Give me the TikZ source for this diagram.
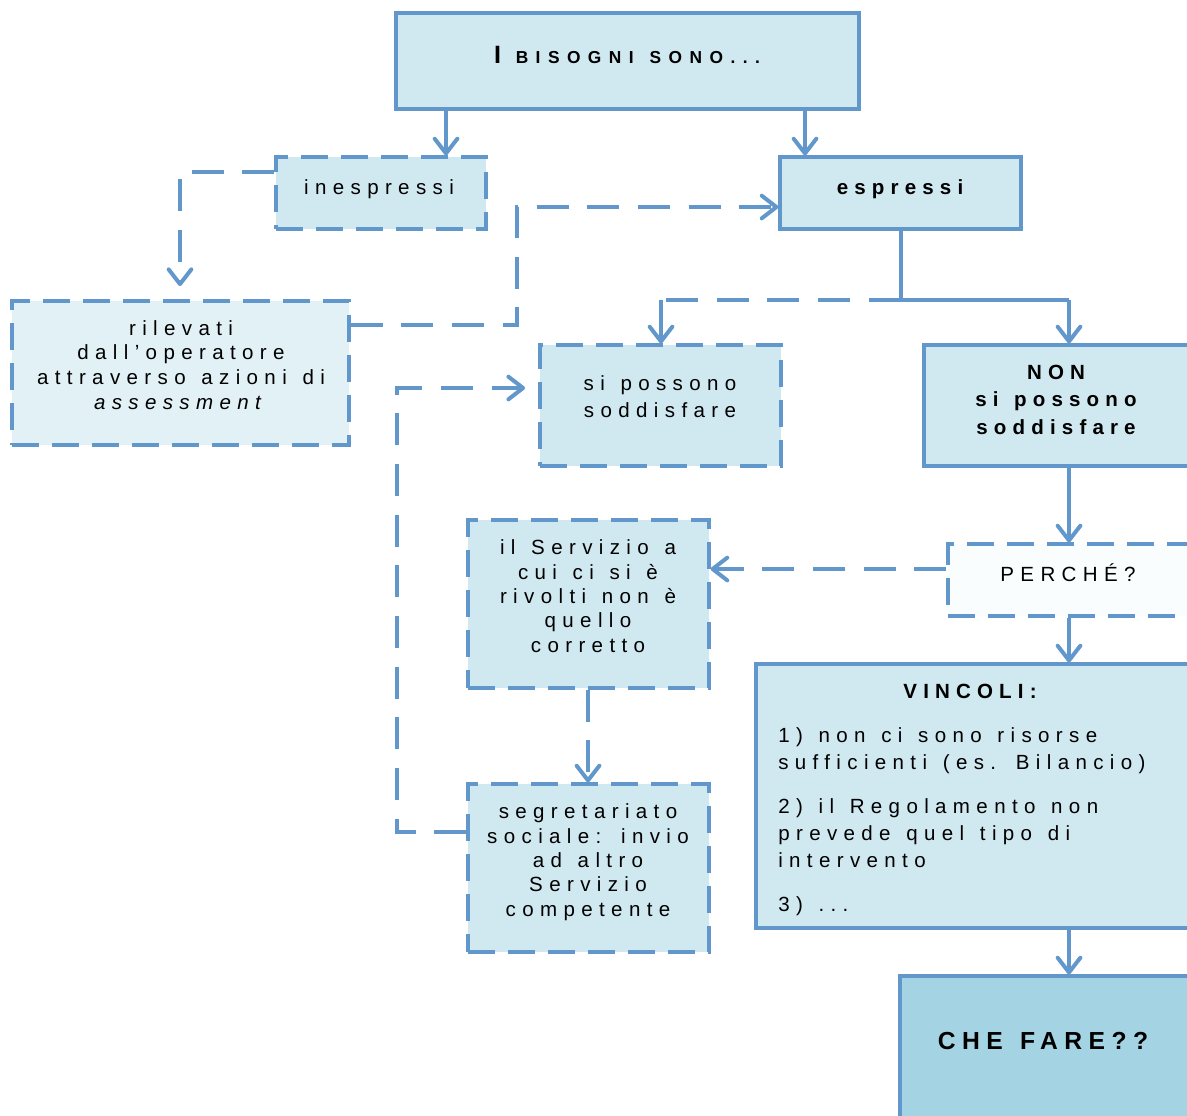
\documentclass[tikz,border=0pt]{standalone}
\usepackage{fontspec}
\setmainfont{Liberation Sans}
\usetikzlibrary{arrows.meta,fit}

\definecolor{lineblue}{RGB}{98,151,204}
\definecolor{boxfill}{RGB}{208,232,240}
\definecolor{palefill}{RGB}{226,241,246}
\definecolor{whitefill}{RGB}{250,253,254}
\definecolor{deepfill}{RGB}{164,212,228}

% letter-spaced text of a given size and leading, with wider word gaps
\newcommand\spaced[3]{\fontsize{#1}{#2}\selectfont\addfontfeature{LetterSpace=#3}%
  \spaceskip=1.3\fontdimen2\font\relax}

\begin{document}
\begin{tikzpicture}[x=0.75pt,y=-0.75pt,
  box/.style={draw=lineblue,line width=2.4pt,fill=boxfill,inner sep=0pt},
  dbox/.style={box,dash pattern=on 20pt off 10pt},
  conn/.style={draw=lineblue,line width=3pt},
  dconn/.style={conn,dash pattern=on 24pt off 14pt},
  arr/.style={-{Straight Barb[round,length=11pt,width=17pt]}},
  txt/.style={inner sep=0pt,anchor=base,align=center,font=\spaced{15.4}{18.5}{31}},
  btxt/.style={txt,font=\bfseries\spaced{15.4}{20.6}{30}}]

\useasboundingbox (0,0) rectangle (1187,1115);
\begin{scope}
\clip (0,0) rectangle (1187,1115);

% boxes
\node[box,fit={(396,13) (859,109)}] (top) {};
\node[dbox,fit={(276,157) (486,229)}] (ine) {};
\node[box,fit={(780,157) (1021,229)}] (esp) {};
\node[dbox,fill=palefill,fit={(12,301) (349,445)}] (ril) {};
\node[dbox,fit={(540,345) (781,466)}] (sip) {};
\node[box,fit={(924,345) (1195,466)}] (non) {};
\node[dbox,fill=whitefill,fit={(948,544) (1195,616)}] (per) {};
\node[dbox,fit={(468,520) (709,688)}] (serv) {};
\node[dbox,fit={(468,784) (709,952)}] (seg) {};
\node[box,fit={(756,664) (1195,928)}] (vinc) {};
\node[box,fill=deepfill,fit={(900,976) (1195,1130)}] (che) {};

% texts (a multi-line text sits on the baseline of its last line)
\node[txt,font=\bfseries] (topT) at (627,63)
  {{\spaced{18.8}{20}{30}I}\hspace{11pt}{\spaced{13}{15}{43}BISOGNI SONO...}};
\node[txt] (ineT) at (379,194) {inespressi};
\node[btxt] (espT) at (900,194) {espressi};
\node[txt] (rilT) at (181,409)
  {rilevati\\dall’operatore\\attraverso azioni di\\\textit{assessment}};
\node[txt,font=\spaced{15.4}{20.25}{31}] (sipT) at (660,417) {si possono\\soddisfare};
\node[btxt] (nonT) at (1056,434) {NON\\si possono\\soddisfare};
\node[txt] (perT) at (1068,581) {PERCHÉ?};
\node[txt,font=\spaced{15.4}{18.2}{31}] (servT) at (588,652)
  {il Servizio a\\cui ci si è\\rivolti non è\\quello\\corretto};
\node[txt,font=\spaced{15.4}{18.2}{31}] (segT) at (588,916)
  {segretariato\\sociale: invio\\ad altro\\Servizio\\competente};
\node[btxt] (vincT) at (970,698) {VINCOLI:};
\node[txt,anchor=base west,align=left,font=\spaced{15.4}{20.25}{31}] (v1) at (778,769)
  {1) non ci sono risorse\\sufficienti (es. Bilancio)};
\node[txt,anchor=base west,align=left,font=\spaced{15.4}{20.25}{31}] (v2) at (778,867)
  {2) il Regolamento non\\prevede quel tipo di\\intervento};
\node[txt,anchor=base west,align=left,font=\spaced{15.4}{20.25}{31}] (v3) at (778,911) {3) ...};
\node[btxt,font=\bfseries\spaced{18.5}{22}{26}] (cheT) at (1043,1049) {CHE FARE??};

% routing columns and rows
\coordinate (xA) at (446,0);
\coordinate (xB) at (805,0);
\coordinate (xC) at (180,0);
\coordinate (xD) at (517,0);
\coordinate (xE) at (661,0);
\coordinate (xF) at (1069,0);
\coordinate (xG) at (588,0);
\coordinate (xH) at (397,0);
\coordinate (yA) at (0,172);
\coordinate (yB) at (0,325);
\coordinate (yC) at (0,207);
\coordinate (yD) at (0,300);
\coordinate (yE) at (0,569);
\coordinate (yF) at (0,832);
\coordinate (yG) at (0,388);

% connectors
\draw[conn,arr] (top.south -| xA) -- (ine.north -| xA);
\draw[conn,arr] (top.south -| xB) -- (esp.north -| xB);
\draw[dconn,arr,shorten >=10pt] (ine.west |- yA) -- (xC |- yA) -- (ril.north -| xC);
\draw[dconn,arr] (ril.east |- yB) -- (xD |- yB) -- (xD |- yC) -- (esp.west |- yC);
\draw[conn] (esp.south) -- (esp.south |- yD) -- (xF |- yD);
\draw[dconn] (esp.south |- yD) -- (xE |- yD);
\draw[conn,arr] (xE |- yD) -- (sip.north -| xE);
\draw[conn,arr] (xF |- yD) -- (non.north -| xF);
\draw[conn,arr] (non.south -| xF) -- (per.north -| xF);
\draw[dconn,arr] (per.west |- yE) -- (serv.east |- yE);
\draw[conn,arr] (per.south -| xF) -- (vinc.north -| xF);
\draw[dconn,arr] (serv.south -| xG) -- (seg.north -| xG);
\draw[dconn,arr,shorten >=10pt] (seg.west |- yF) -- (xH |- yF) -- (xH |- yG) -- (sip.west |- yG);
\draw[conn,arr] (vinc.south -| xF) -- (che.north -| xF);
\end{scope}
\end{tikzpicture}
\end{document}
